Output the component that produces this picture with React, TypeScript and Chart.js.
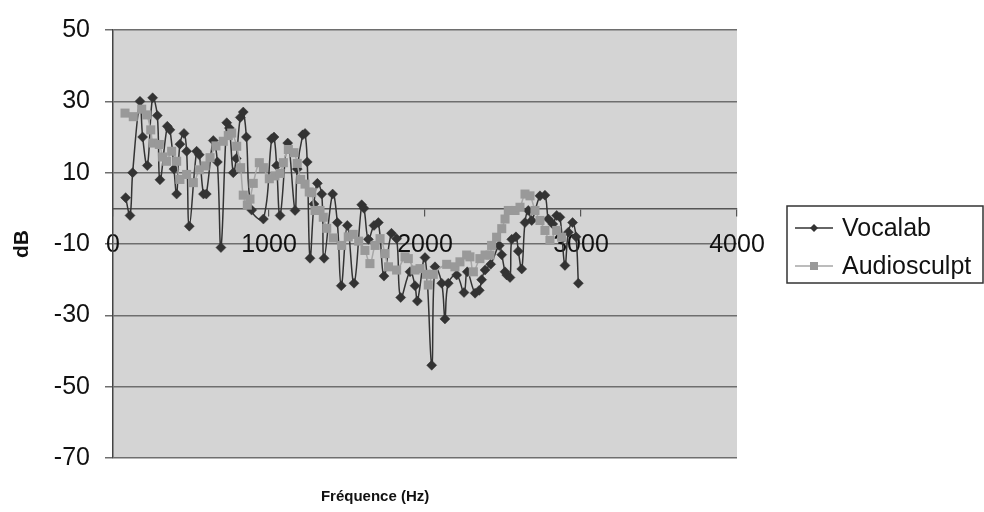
import { useEffect, useRef } from 'react';
import { Chart, registerables } from 'chart.js';

Chart.register(...registerables);

const seriesNames = ['Vocalab', 'Audiosculpt'];

const vocalabHz = [
  81, 109, 126, 173, 190, 220, 254, 284, 301, 348, 365, 391, 408, 429, 455, 472, 489, 536, 553, 580,
  598, 643, 669, 692, 729, 746, 771, 790, 816, 835, 855, 889, 964, 1017, 1032, 1049, 1071, 1120, 1167, 1181,
  1216, 1231, 1245, 1263, 1288, 1310, 1338, 1353, 1408, 1438, 1463, 1502, 1545, 1594, 1609, 1637, 1673, 1701, 1737, 1785,
  1818, 1844, 1904, 1936, 1951, 2000, 2043, 2064, 2107, 2128, 2149, 2203, 2250, 2271, 2321, 2348, 2363, 2385, 2421, 2476,
  2492, 2513, 2524, 2545, 2556, 2583, 2598, 2620, 2641, 2662, 2684, 2737, 2769, 2791, 2819, 2844, 2865, 2897, 2919, 2946,
  2968, 2983,
];
const vocalabDb = [
  3, -2, 10, 30, 20, 12, 31, 26, 8, 23, 22, 11, 4, 18, 21, 16, -5, 16, 15, 4,
  4, 19, 13, -11, 24, 22.5, 10, 14, 25.5, 27, 20, -0.5, -3, 19.5, 20, 12, -2, 18.3, -0.6, 11,
  20.6, 21, 13, -14, 1.2, 7, 4, -14, 4, -4, -21.7, -4.8, -21, 1, 0, -8.7, -4.8, -4, -19, -7,
  -8.5, -25, -17.8, -21.7, -26, -13.8, -44, -16.4, -21, -31, -21, -18.7, -23.6, -17.8, -23.8, -23, -20, -17.3, -15.7, -10.4,
  -13, -17.8, -18.7, -19.4, -8.7, -8, -12, -17, -4, -0.6, -3.4, 3.5, 3.7, -3, -4.4, -2, -2.5, -16, -6.7, -4,
  -8, -21,
];

const audiosculptHz = [
  77, 130, 184, 216, 242, 258, 297, 318, 344, 376, 408, 429, 472, 515, 553, 590, 622, 660, 707, 739,
  761, 793, 818, 835, 861, 878, 899, 938, 964, 1002, 1038, 1071, 1092, 1124, 1160, 1181, 1203, 1231, 1258, 1274,
  1295, 1327, 1348, 1370, 1412, 1466, 1508, 1540, 1575, 1615, 1647, 1680, 1712, 1744, 1766, 1818, 1872, 1893, 1936, 1968,
  2010, 2021, 2053, 2139, 2192, 2224, 2267, 2288, 2310, 2352, 2385, 2417, 2427, 2459, 2492, 2513, 2534, 2577, 2609, 2641,
  2673, 2705, 2737, 2769, 2801, 2844, 2876,
];
const audiosculptDb = [
  26.7, 25.7, 27.8, 26.2, 22, 18.3, 17.9, 14.4, 13.2, 16, 13.2, 8.1, 9.5, 7.2, 10.8, 11.9, 14.2, 17.5, 18.8, 20.4,
  21.1, 17.4, 11.4, 3.7, 0.9, 2.6, 7, 12.8, 11.4, 8.3, 9.1, 9.8, 12.8, 16.5, 15.6, 12.6, 8.1, 6.8, 4.6, 4.4,
  -0.6, -0.6, -2.5, -5.6, -8.3, -10.4, -8, -7.3, -9.2, -11.8, -15.5, -10.4, -8.5, -12.7, -16.4, -17.3, -13.6, -14.1, -17.3, -16.9,
  -18.5, -21.5, -18.5, -15.7, -16.4, -15, -13.1, -13.6, -17.8, -14.1, -13.1, -13.1, -10.4, -8.1, -5.7, -3, -0.6, -0.6, 0.3, 4,
  3.5, -0.6, -3.4, -6.2, -9, -6.2, -8.1,
];

const xMin = 0;
const xMax = 4000;
const xStep = 1000;
const yMin = -70;
const yMax = 50;
const yStep = 20;
const xTitle = 'Fréquence (Hz)';
const yTitle = 'dB';

const FONT = '"Liberation Sans", Arial, Helvetica, sans-serif';
const DARK = '#333333';
const GREY = '#999999';

const plotBg = {
  id: 'plotBg',
  beforeDraw(chart: any) {
    const { ctx, chartArea } = chart;
    ctx.save();
    ctx.fillStyle = '#d4d4d4';
    ctx.fillRect(chartArea.left, chartArea.top, chartArea.right - chartArea.left, chartArea.bottom - chartArea.top);
    ctx.restore();
  },
};

function drawMarker(ctx: CanvasRenderingContext2D, style: string, x: number, y: number, r: number) {
  ctx.beginPath();
  if (style === 'rectRot') {
    ctx.moveTo(x, y - r);
    ctx.lineTo(x + r, y);
    ctx.lineTo(x, y + r);
    ctx.lineTo(x - r, y);
    ctx.closePath();
  } else {
    ctx.rect(x - r, y - r, 2 * r, 2 * r);
  }
  ctx.fill();
}

const boxLegend = {
  id: 'boxLegend',
  afterDraw(chart: any) {
    const { ctx, chartArea } = chart;
    const boxLeft = chartArea.right + 50;
    const boxTop = (chartArea.top + chartArea.bottom) / 2 - 38;
    const boxW = 196;
    const boxH = 77;
    ctx.save();
    ctx.strokeStyle = '#333';
    ctx.lineWidth = 1.5;
    ctx.strokeRect(boxLeft, boxTop, boxW, boxH);
    ctx.font = `25px ${FONT}`;
    ctx.textBaseline = 'middle';
    ctx.textAlign = 'left';
    chart.data.datasets.forEach((ds: any, i: number) => {
      const cy = boxTop + 22 + i * 38;
      ctx.strokeStyle = ds.borderColor;
      ctx.lineWidth = 1.5;
      ctx.beginPath();
      ctx.moveTo(boxLeft + 8, cy);
      ctx.lineTo(boxLeft + 46, cy);
      ctx.stroke();
      ctx.fillStyle = ds.pointBackgroundColor;
      drawMarker(ctx, ds.pointStyle, boxLeft + 27, cy, 4);
      ctx.fillStyle = '#111';
      ctx.fillText(ds.label, boxLeft + 55, cy + 1);
    });
    ctx.restore();
  },
};

const xTitlePlugin = {
  id: 'xTitlePlugin',
  afterDraw(chart: any) {
    const { ctx, chartArea } = chart;
    ctx.save();
    ctx.font = `bold 15px ${FONT}`;
    ctx.fillStyle = '#111';
    ctx.textAlign = 'center';
    ctx.textBaseline = 'middle';
    ctx.fillText(xTitle, chartArea.left + (chartArea.right - chartArea.left) * 0.42, chartArea.bottom + 39);
    ctx.restore();
  },
};

export default function App() {
  const ref = useRef<HTMLCanvasElement | null>(null);

  useEffect(() => {
    document.body.style.margin = '0';
    if (!ref.current) return;
    const chart = new Chart(ref.current, {
      type: 'line',
      data: {
        datasets: [
          {
            label: seriesNames[0],
            data: vocalabHz.map((x, i) => ({ x, y: vocalabDb[i] })),
            borderColor: DARK,
            backgroundColor: DARK,
            pointBackgroundColor: DARK,
            pointBorderColor: DARK,
            borderWidth: 1.5,
            pointStyle: 'rectRot',
            pointRadius: 5,
            pointBorderWidth: 0.5,
            tension: 0.4,
            order: 1,
          } as any,
          {
            label: seriesNames[1],
            data: audiosculptHz.map((x, i) => ({ x, y: audiosculptDb[i] })),
            borderColor: '#a6a6a6',
            backgroundColor: GREY,
            pointBackgroundColor: GREY,
            pointBorderColor: GREY,
            borderWidth: 1.5,
            pointStyle: 'rect',
            pointRadius: 6.4,
            pointBorderWidth: 0,
            tension: 0.4,
            order: 0,
          } as any,
        ],
      },
      options: {
        animation: false,
        responsive: false,
        layout: { padding: { left: 0, top: 26, right: 247, bottom: 54 } },
        plugins: { legend: { display: false }, tooltip: { enabled: false }, title: { display: false } },
        scales: {
          x: {
            type: 'linear',
            position: { y: 0 } as any,
            min: xMin,
            max: xMax,
            ticks: {
              stepSize: xStep,
              font: { size: 25, family: FONT },
              color: '#111',
              padding: 15,
              maxRotation: 0,
              callback: (v: any) => String(v),
            },
            grid: { drawOnChartArea: false, drawTicks: true, tickLength: 7, color: '#555', lineWidth: 1.2 },
            border: { display: true, color: '#555', width: 1.5 },
          },
          y: {
            type: 'linear',
            min: yMin,
            max: yMax,
            afterFit(scale: any) {
              scale.width = 113;
            },
            ticks: {
              stepSize: yStep,
              font: { size: 25, family: FONT },
              color: '#111',
              padding: 15,
              callback: (v: any) => String(v),
            },
            grid: { color: '#6e6e6e', lineWidth: 1.5, tickLength: 8, drawTicks: true },
            border: { display: true, color: '#444', width: 1.5 },
            title: {
              display: true,
              text: yTitle,
              font: { size: 21, weight: 'bold', family: FONT },
              color: '#111',
              padding: { top: 10, bottom: 0 },
            },
          },
        },
      },
      plugins: [plotBg, boxLegend, xTitlePlugin],
    });
    return () => chart.destroy();
  }, []);

  return (
    <div style={{ position: 'fixed', left: 0, top: 0, width: 984, height: 512, background: '#fff' }}>
      <canvas ref={ref} width={984} height={512} style={{ width: 984, height: 512, display: 'block' }} />
    </div>
  );
}
